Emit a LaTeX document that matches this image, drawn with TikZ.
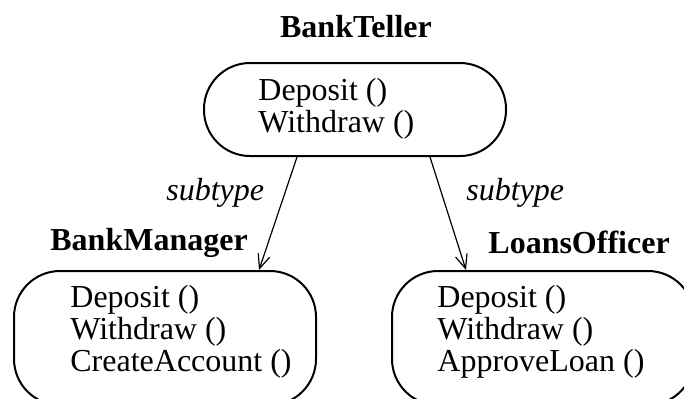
\documentclass[tikz,border=0pt]{standalone}
\usepackage{fontspec}
\setmainfont{Liberation Serif}
\usetikzlibrary{arrows.meta, positioning}

\begin{document}
\begin{tikzpicture}[x=0.5pt, y=-0.5pt]
    \tikzstyle{class}=[draw, line width=1pt, rounded corners=23pt, minimum width=151pt, anchor=north west, inner sep=0pt];
    \tikzstyle{ops}=[align=left, anchor=north west, inner sep=0pt, font=\fontsize{16}{16}\selectfont];
    \tikzstyle{title}=[anchor=base west, inner sep=0pt, font=\fontsize{16}{16}\selectfont\bfseries];
    \tikzstyle{kind}=[anchor=base west, inner sep=0pt, font=\fontsize{16}{16}\selectfont\itshape];
    \tikzstyle{sub}=[line width=0.6pt, -{Straight Barb[length=7pt, width=6pt]}];

    \useasboundingbox (0,0) rectangle (684,398);
    \clip (0,0) rectangle (684,398);

    % classes
    \node[class, minimum height=46.5pt] (teller) at (203,62) {};
    \node[class, minimum height=67pt] (manager) at (13,270) {};
    \node[class, minimum height=67pt] (officer) at (391,270) {};

    \node[title, anchor=base] (tellername) at (356,37) {BankTeller};
    \node[title] (managername) at (50,250) {BankManager};
    \node[title] (officername) at (488,253) {LoansOfficer};

    % operations
    \node[ops] (tellerops) at (258,78) {Deposit ()\\Withdraw ()};
    \node[ops] (managerops) at (70,285) {Deposit ()\\Withdraw ()\\CreateAccount ()};
    \node[ops] (officerops) at (437,285) {Deposit ()\\Withdraw ()\\ApproveLoan ()};

    % subtype links
    \draw[sub] ([xshift=-29pt]teller.south) -- ([xshift=47pt]manager.north);
    \draw[sub] ([xshift=37.5pt]teller.south) -- ([xshift=-38.5pt]officer.north);
    \node[kind] (leftkind) at (166,200) {subtype};
    \node[kind] (rightkind) at (466,200) {subtype};
\end{tikzpicture}
\end{document}
